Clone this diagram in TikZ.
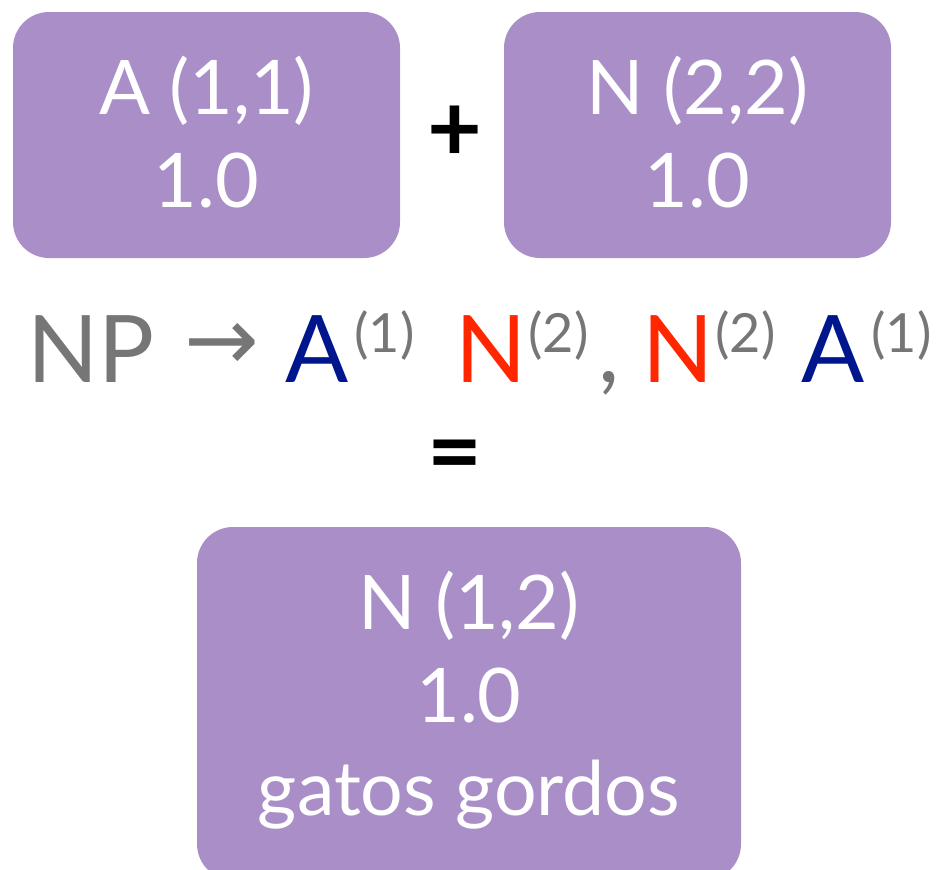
\documentclass[tikz,border=0pt]{standalone}
\usepackage{fontspec}
\setmainfont{Lato}
\newfontfamily\symfont{DejaVu Sans}
\definecolor{boxpurple}{HTML}{A98EC8}
\definecolor{ggray}{HTML}{767676}
\definecolor{nblue}{HTML}{00168C}
\definecolor{nred}{HTML}{FF2600}
\begin{document}
\begin{tikzpicture}[x=0.75pt,y=-0.75pt,
  box/.style={fill=boxpurple, draw=none, rounded corners=27pt, inner sep=0pt},
  boxtxt/.style={text=white, font=\fontsize{56.5}{60}\selectfont, anchor=base, inner sep=0pt},
  big/.style={font=\fontsize{70}{75}\selectfont, anchor=base west, inner sep=0pt},
  suptxt/.style={font=\fontsize{40.5}{44}\selectfont, text=ggray, anchor=base west, inner sep=0pt},
  optxt/.style={font=\fontsize{71}{75}\selectfont\bfseries, text=black, inner sep=0pt}
]
\useasboundingbox (0,0) rectangle (950,869);
% boxes
\node[box, minimum width=290.25pt, minimum height=184.5pt] (boxA) at (206.5,135) {};
\node[box, minimum width=290.25pt, minimum height=184.5pt] (boxN) at (697.5,135) {};
\node[box, minimum width=408pt, minimum height=264.75pt] (boxR) at (469,703.5) {};
% box texts
\node[boxtxt] (tA1) at (206.5,114) {A (1,1)};
\node[boxtxt] (tA2) at (206.5,207) {1.0};
\node[boxtxt] (tN1) at (697.5,114) {N (2,2)};
\node[boxtxt] (tN2) at (697.5,207) {1.0};
\node[boxtxt] (tR1) at (469,629) {N (1,2)};
\node[boxtxt] (tR2) at (469,722) {1.0};
\node[boxtxt] (tR3) at (469,815) {gatos gordos};
% operators
\node[optxt] (plus) at (454.5,134) {+};
\node[optxt] (eq) at (454.5,462) {=};
% rule line
\node[big, text=ggray] (np) at (27,382) {NP};
\node[font=\symfont\fontsize{67}{70}\selectfont, text=ggray, inner sep=0pt] (arr) at (222,347) {→};
\node[big, text=nblue] (a1) at (285,382) {A};
\node[suptxt] (s1) at (354,352) {(1)};
\node[big, text=nred] (n1) at (455,382) {N};
\node[suptxt] (s2) at (528,352) {(2)};
\node[big, text=ggray] (comma) at (598,382) {,};
\node[big, text=nred] (n2) at (642,382) {N};
\node[suptxt] (s3) at (715,352) {(2)};
\node[big, text=nblue] (a2) at (801,382) {A};
\node[suptxt] (s4) at (871,352) {(1)};
\end{tikzpicture}
\end{document}
